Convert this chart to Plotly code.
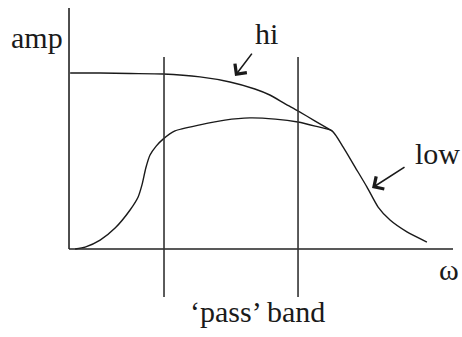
import plotly.graph_objects as go

# ---- data (omega in arbitrary units, amplitude normalised) ----
omega_hi = [0.03, 0.81, 1.59, 2.45, 3.41, 4.19, 4.84, 5.23, 5.63, 5.96, 6.41, 6.85]
amp_hi = [0.730, 0.730, 0.728, 0.726, 0.714, 0.693, 0.664, 0.639, 0.602, 0.573, 0.531, 0.490]

omega_low = [0.16, 0.42, 0.81, 1.20, 1.59, 1.80, 1.90, 2.00, 2.11, 2.27, 2.45, 2.76, 3.41,
             4.06, 4.71, 5.37, 5.96, 6.41, 6.85, 7.14, 7.45, 7.76, 8.05, 8.36, 8.80, 9.32]
amp_low = [0.000, 0.008, 0.037, 0.087, 0.162, 0.216, 0.266, 0.336, 0.390, 0.427, 0.456, 0.490, 0.515,
           0.535, 0.544, 0.539, 0.527, 0.510, 0.490, 0.423, 0.340, 0.257, 0.174, 0.120, 0.071, 0.029]

band_edges = [2.474, 5.964]
axis_x_max = 10.0
axis_y_max = 1.0

label_texts = ["amp", "hi", "low", "ω", "‘pass’ band"]

# ---- figure ----
fig = go.Figure()
line_style = dict(color="#1a1a1a", width=1.4, shape="spline", smoothing=0.6)
fig.add_trace(go.Scatter(x=omega_hi, y=amp_hi, mode="lines", line=line_style, hoverinfo="skip"))
fig.add_trace(go.Scatter(x=omega_low, y=amp_low, mode="lines", line=line_style, hoverinfo="skip"))

shapes = []
# axes
shapes.append(dict(type="line", xref="x", yref="y", x0=0, x1=0, y0=0, y1=axis_y_max,
                   line=dict(color="#222", width=1.6)))
shapes.append(dict(type="line", xref="x", yref="y", x0=0, x1=axis_x_max, y0=0, y1=0,
                   line=dict(color="#222", width=1.6)))
# pass band edges
for e in band_edges:
    shapes.append(dict(type="line", xref="x", yref="y", x0=e, x1=e, y0=-0.199, y1=0.797,
                       line=dict(color="#333", width=1.6)))

font = dict(family="'Liberation Serif', 'Times New Roman', Times, serif", size=30, color="#1a1a1a")
label_pos = [(-0.846, 0.876), (5.143, 0.896), (9.583, 0.398), (9.896, -0.087), (4.896, -0.261)]
annotations = []
for t, (x, y) in zip(label_texts, label_pos):
    annotations.append(dict(x=x, y=y, xref="x", yref="y", text=t, showarrow=False,
                            xanchor="center", yanchor="middle", font=font))

# arrows (tip, tail)
arrows = [((4.323, 0.718), (4.792, 0.817)), ((7.891, 0.253), (8.776, 0.344))]
for (tx, ty), (sx, sy) in arrows:
    annotations.append(dict(x=tx, y=ty, ax=sx, ay=sy, xref="x", yref="y", axref="x", ayref="y",
                            text="", showarrow=True, arrowhead=4, arrowsize=1.8,
                            arrowwidth=1.6, arrowcolor="#1a1a1a", standoff=0, startstandoff=0))

fig.update_layout(
    width=462, height=337,
    margin=dict(l=0, r=0, t=0, b=0),
    paper_bgcolor="white", plot_bgcolor="white",
    showlegend=False,
    xaxis=dict(range=[-1.797, 10.234], visible=False, fixedrange=True),
    yaxis=dict(range=[-0.3651, 1.0332], visible=False, fixedrange=True),
    shapes=shapes, annotations=annotations,
)

fig.write_html("out.html", config={"displayModeBar": False},
               post_script="document.body.style.margin='0';document.body.style.overflow='hidden';")
